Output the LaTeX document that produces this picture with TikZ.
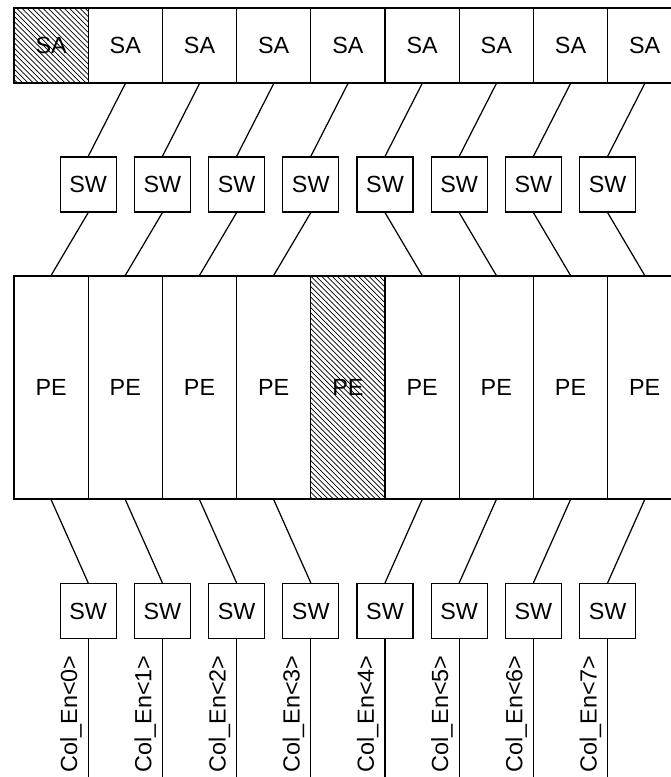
\documentclass[tikz,border=0pt]{standalone}
\usepackage{fontspec}
\setmainfont{Liberation Sans}
\usetikzlibrary{patterns}

\begin{document}
\begin{tikzpicture}[x=0.02cm,y=-0.02cm,font=\fontsize{13.3}{15}\selectfont,
  cell/.style={draw,line width=0.7pt,minimum width=1.484cm,inner sep=0pt},
  sacell/.style={cell,minimum height=1.5cm},
  pecell/.style={cell,minimum height=4.46cm},
  swbox/.style={draw,line width=0.7pt,minimum width=1.12cm,minimum height=1.1cm,inner sep=0pt},
  wire/.style={line width=0.7pt},
  hatched/.style={pattern=north west lines}]
  \clip (0,0) rectangle (671,777);
  % Row 1: SA cells, the first one hatched
  \node[sacell,hatched] (sa0) at (51.1,45.5) {SA};
  \foreach \i in {1,...,8}
    \node[sacell] (sa\i) at ({51.1+74.2*\i},45.5) {SA};
  % Row 2: upper switches
  \foreach \i in {0,...,7}
    \node[swbox] (swt\i) at ({88.2+74.2*\i},184.5) {SW};
  % Row 3: PE cells, PE 4 hatched
  \node[pecell,hatched] (pe4) at ({51.1+74.2*4},387.5) {PE};
  \foreach \i in {0,1,2,3,5,6,7,8}
    \node[pecell] (pe\i) at ({51.1+74.2*\i},387.5) {PE};
  % Row 4: lower switches and column enables
  \foreach \i in {0,...,7} {
    \node[swbox] (swb\i) at ({88.2+74.2*\i},611) {SW};
    \coordinate (end\i) at ({88.2+74.2*\i},777);
    \draw[wire] (swb\i.south) -- (end\i);
    \node[rotate=90] (en\i) at ({71+74.2*\i},714) {Col\_En<\i>};
  }
  % wiring: skip the hatched cells
  \foreach \i/\j/\k in {0/1/0,1/2/1,2/3/2,3/4/3,4/5/5,5/6/6,6/7/7,7/8/8} {
    \draw[wire] (sa\j.south) -- (swt\i.north);
    \draw[wire] (swt\i.south) -- (pe\k.north);
    \draw[wire] (pe\k.south) -- (swb\i.north);
  }
\end{tikzpicture}
\end{document}
